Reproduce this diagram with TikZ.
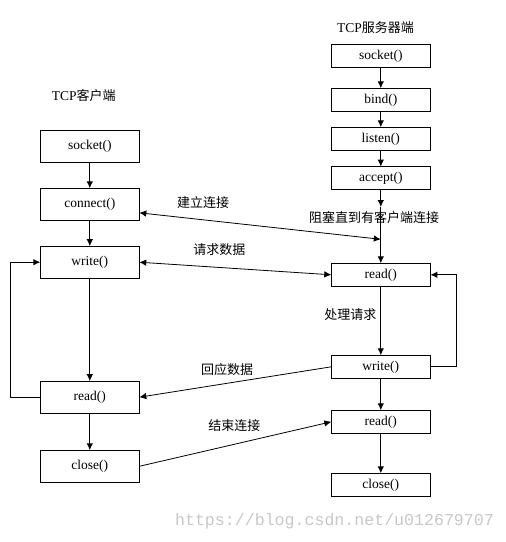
\documentclass[tikz,border=0pt]{standalone}
\usepackage{fontspec}
\setmainfont{Liberation Serif}
\newfontfamily\cjk{Noto Sans CJK SC}
\newfontfamily\wmfont{Liberation Mono}
\usetikzlibrary{arrows.meta}
\definecolor{wmgray}{RGB}{200,200,200}
\begin{document}
\begin{tikzpicture}[x=1pt,y=-1pt,
  lbox/.style={draw,line width=1pt,minimum width=99pt,minimum height=32pt,inner sep=0pt,outer sep=0pt,font=\fontsize{13.5}{15}\selectfont},
  rbox/.style={lbox,minimum height=23pt},
  lbl/.style={inner sep=0pt,font=\cjk\fontsize{13}{15}\selectfont},
  conn/.style={line width=1pt,-{Latex[length=7pt,width=6.5pt]}},
  dconn/.style={line width=1pt,{Latex[length=7pt,width=6.5pt]}-{Latex[length=7pt,width=6.5pt]}},
  wline/.style={line width=0.8pt}]
\useasboundingbox[fill=white] (0,0) rectangle (506,542);
% titles
\node[lbl] (tserver) at (375.5,27.7) {{\rmfamily\fontsize{13.5}{15}\selectfont TCP}服务器端};
\node[lbl] (tclient) at (83.7,95.7) {{\rmfamily\fontsize{13.5}{15}\selectfont TCP}客户端};
% client boxes
\node[lbox] (lsocket) at (89.8,146.3) {socket()};
\node[lbox] (lconnect) at (89.8,204.3) {connect()};
\node[lbox] (lwrite) at (89.8,262.2) {write()};
\node[lbox] (lread) at (89.8,397.2) {read()};
\node[lbox] (lclose) at (89.8,466.3) {close()};
% server boxes
\node[rbox] (rsocket) at (380.8,55.8) {socket()};
\node[rbox] (rbind) at (380.8,99.8) {bind()};
\node[rbox] (rlisten) at (380.8,138.8) {listen()};
\node[rbox] (raccept) at (380.8,178.2) {accept()};
\node[rbox] (rread) at (380.8,274.8) {read()};
\node[rbox] (rwrite) at (380.8,366.8) {write()};
\node[rbox] (rread2) at (380.8,421.8) {read()};
\node[rbox] (rclose) at (380.8,484.8) {close()};
\coordinate (blk) at (380.8,207);
\coordinate (meet) at (380.8,239.3);
% labels
\node[lbl] (l1) at (203,203) {建立连接};
\node[lbl] (l2) at (374,217.7) {阻塞直到有客户端连接};
\node[lbl] (l3) at (219.3,250) {请求数据};
\node[lbl] (l4) at (350.3,315) {处理请求};
\node[lbl] (l5) at (227,370) {回应数据};
\node[lbl] (l6) at (234.3,426) {结束连接};
% client column
\draw[conn] (lsocket) -- (lconnect);
\draw[conn] (lconnect) -- (lwrite);
\draw[conn] (lwrite) -- (lread);
\draw[conn] (lread) -- (lclose);
% server column
\draw[conn] (rsocket) -- (rbind);
\draw[conn] (rbind) -- (rlisten);
\draw[conn] (rlisten) -- (raccept);
\draw[conn] (raccept) -- (blk);
\draw[conn] (blk) -- (rread);
\draw[conn] (rread) -- (rwrite);
\draw[conn] (rwrite) -- (rread2);
\draw[conn] (rread2) -- (rclose);
% cross connections
\draw[dconn,wline] ([yshift=-8.5pt]lconnect.east) -- (meet);
\draw[dconn,wline] (lwrite.east) -- (rread.west);
\draw[conn,wline] (rwrite.west) -- (lread.east);
\draw[conn,wline] (lclose.east) -- (rread2.west);
% loops
\draw[conn] (lread.west) -- ++(-30,0) |- (lwrite.west);
\draw[conn] (rwrite.east) -- ++(26,0) |- (rread.east);
% watermark
\node[inner sep=0pt,text=wmgray,font=\wmfont\fontsize{16.6}{18}\selectfont] (wm) at (334.5,521.7) {https://blog.csdn.net/u012679707};
\end{tikzpicture}
\end{document}
